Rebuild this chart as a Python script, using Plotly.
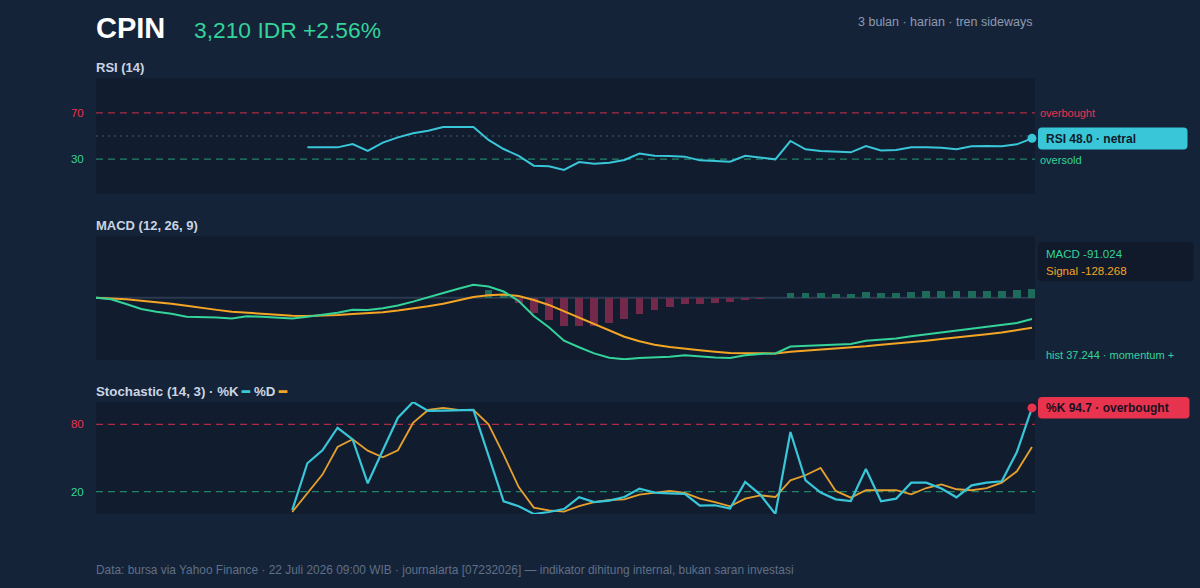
import plotly.graph_objects as go

# ---------------- data ----------------
N = 63
idx = list(range(N))

rsi = [None] * 14 + [
    40.2, 40.2, 40.2, 43.1, 37.1, 44.3, 48.8, 52.3, 54.6, 57.8,
    57.8, 57.8, 46.6, 38.8, 32.8, 24.4, 23.9, 20.8, 27.5, 26.1,
    27.0, 29.3, 34.8, 33.0, 32.8, 32.2, 29.0, 28.7, 27.9, 33.0,
    31.6, 29.9, 45.7, 38.5, 37.1, 36.2, 35.9, 41.4, 37.6, 37.9,
    40.2, 40.2, 39.9, 38.5, 41.1, 41.4, 41.1, 42.8, 48.0]

macd = [
    0, -7, -27, -48, -60, -68, -81, -82, -84, -89,
    -79, -81, -84, -89, -81, -72, -64, -51, -52, -45,
    -33, -17, 0, 20, 38, 55, 47, 26, -14, -78,
    -126, -183, -211, -237, -255, -262, -256, -254, -251, -245,
    -251, -254, -256, -245, -239, -237, -208, -205, -203, -200,
    -197, -183, -179, -174, -164, -156, -149, -143, -135, -126,
    -118, -108, -91.024]

signal = [
    0, -3, -7, -13, -18, -26, -34, -44, -52, -60,
    -65, -69, -74, -77, -78, -77, -74, -69, -67, -62,
    -55, -47, -37, -26, -13, 3, 10, 13, 7, -10,
    -31, -58, -87, -115, -142, -166, -185, -200, -210, -218,
    -224, -230, -235, -236, -236, -237, -230, -226, -221, -216,
    -213, -207, -200, -195, -188, -183, -176, -170, -163, -156,
    -148, -139, -128.268]

hist = [None] * 26 + [
    33, 11, -21, -67, -95, -122, -122, -120, -107, -92,
    -68, -51, -39, -26, -26, -23, -20, -10, -4, 0,
    21, 21, 18, 16, 16, 24, 21, 21, 24, 27,
    27, 27, 28, 30, 30, 31, 37.244]

stoch_k = [None] * 13 + [
    3.5, 45.3, 56.9, 77.0, 66.7, 27.4, 56.9, 86.0, 100.0, 92.0,
    92.3, 92.9, 92.9, 52.2, 11.3, 7.0, 0.0, 1.8, 4.4, 15.0,
    10.7, 12.0, 15.2, 22.7, 19.1, 18.5, 17.9, 7.5, 7.8, 4.8,
    28.6, 17.3, 0.0, 73.2, 30.1, 19.1, 13.1, 11.6, 40.2, 11.3,
    13.7, 28.0, 28.0, 22.7, 14.9, 25.6, 28.0, 29.2, 55.4, 94.7]

stoch_d = [None] * 13 + [
    1.8, 18.2, 35.2, 59.8, 66.7, 56.6, 50.6, 56.9, 81.3, 92.9,
    94.7, 92.9, 92.9, 80.1, 53.0, 24.1, 5.7, 3.3, 2.1, 7.1,
    10.7, 12.5, 13.1, 17.3, 19.1, 20.6, 18.8, 13.7, 10.7, 6.9,
    13.7, 16.7, 15.2, 30.1, 34.6, 41.1, 20.6, 14.6, 21.2, 21.2,
    21.4, 17.6, 23.2, 26.5, 22.1, 21.2, 23.2, 28.0, 38.1, 59.8]

rsi_levels = [30, 70]
stoch_levels = [20, 80]

# ---------------- style ----------------
FONT = "Liberation Sans, Arial, Helvetica, sans-serif"
BG = "#152339"
PLOT_BG = "#111d2f"
CYAN = "#38c6d8"
GREEN = "#34d399"
ORANGE = "#f5a524"
RED = "#e8334f"
TITLE_C = "#cbd5e1"
MUTED = "#8e9bb0"
FOOT = "#5f6f86"

W, H = 1200, 588
L, R = 96, 165


def xp(px):
    return (px - L) / (W - L - R)


def yp(py):
    return 1 - py / H


def rounded_box(x0, y0, x1, y1, r, fill):
    rx = r / (W - L - R)
    ry = r / H
    X0, X1 = xp(x0), xp(x1)
    Yt, Yb = yp(y0), yp(y1)
    path = (f"M {X0+rx},{Yt} L {X1-rx},{Yt} Q {X1},{Yt} {X1},{Yt-ry} "
            f"L {X1},{Yb+ry} Q {X1},{Yb} {X1-rx},{Yb} L {X0+rx},{Yb} "
            f"Q {X0},{Yb} {X0},{Yb+ry} L {X0},{Yt-ry} Q {X0},{Yt} {X0+rx},{Yt} Z")
    return dict(type="path", xref="paper", yref="paper", path=path,
                fillcolor=fill, line=dict(width=0), layer="above")


fig = go.Figure()

# RSI
fig.add_trace(go.Scatter(x=idx, y=rsi, mode="lines", line=dict(color=CYAN, width=2),
                         xaxis="x", yaxis="y", hoverinfo="skip"))
fig.add_trace(go.Scatter(x=[idx[-1]], y=[rsi[-1]], mode="markers",
                         marker=dict(color=CYAN, size=9), cliponaxis=False,
                         xaxis="x", yaxis="y", hoverinfo="skip"))

# MACD
fig.add_trace(go.Bar(x=idx, y=hist, width=0.52,
                     marker=dict(color=["#1f6b5b" if (h is not None and h >= 0) else "#72294a"
                                        for h in hist], line=dict(width=0)),
                     xaxis="x2", yaxis="y2", hoverinfo="skip"))
fig.add_trace(go.Scatter(x=idx, y=signal, mode="lines", line=dict(color=ORANGE, width=2),
                         xaxis="x2", yaxis="y2", hoverinfo="skip"))
fig.add_trace(go.Scatter(x=idx, y=macd, mode="lines", line=dict(color=GREEN, width=2),
                         xaxis="x2", yaxis="y2", hoverinfo="skip"))

# Stochastic
fig.add_trace(go.Scatter(x=idx, y=stoch_d, mode="lines", line=dict(color="#e6a02e", width=1.8),
                         xaxis="x3", yaxis="y3", hoverinfo="skip"))
fig.add_trace(go.Scatter(x=idx, y=stoch_k, mode="lines", line=dict(color=CYAN, width=2.2),
                         xaxis="x3", yaxis="y3", hoverinfo="skip"))
fig.add_trace(go.Scatter(x=[idx[-1]], y=[stoch_k[-1]], mode="markers",
                         marker=dict(color=RED, size=9), cliponaxis=False,
                         xaxis="x3", yaxis="y3", hoverinfo="skip"))

xcommon = dict(range=[0, 62.2], visible=False, showgrid=False, zeroline=False, fixedrange=True)
ycommon = dict(showgrid=False, zeroline=False, showline=False, fixedrange=True,
               ticks="outside", ticklen=9, tickcolor="rgba(0,0,0,0)",
               tickfont=dict(family=FONT, size=11.5, color=MUTED))

fig.update_layout(
    width=W, height=H,
    margin=dict(l=L, r=R, t=0, b=0, pad=0),
    paper_bgcolor=BG, plot_bgcolor=PLOT_BG,
    showlegend=False, bargap=0,
    font=dict(family=FONT, color=TITLE_C),
    xaxis=dict(domain=[0, 1], anchor="y", **xcommon),
    xaxis2=dict(domain=[0, 1], anchor="y2", **xcommon),
    xaxis3=dict(domain=[0, 1], anchor="y3", **xcommon),
    yaxis=dict(domain=[yp(194), yp(78)], range=[0, 100], anchor="x",
               tickvals=rsi_levels,
               ticktext=[f"<span style='color:{GREEN}'>30</span>",
                         f"<span style='color:{RED}'>70</span>"], **ycommon),
    yaxis2=dict(domain=[yp(360), yp(236)], range=[-265, 262], anchor="x2",
                showticklabels=False, **ycommon),
    yaxis3=dict(domain=[yp(514), yp(402)], range=[0, 100], anchor="x3",
                tickvals=stoch_levels,
                ticktext=[f"<span style='color:{GREEN}'>20</span>",
                          f"<span style='color:{RED}'>80</span>"], **ycommon),
)

shapes = []
# RSI reference lines
shapes.append(dict(type="line", xref="x domain", yref="y", x0=0, x1=1, y0=70, y1=70,
                   line=dict(color="rgba(232,51,79,0.7)", width=1.3, dash="7px,5px"), layer="below"))
shapes.append(dict(type="line", xref="x domain", yref="y", x0=0, x1=1, y0=30, y1=30,
                   line=dict(color="rgba(52,211,153,0.55)", width=1.3, dash="7px,5px"), layer="below"))
shapes.append(dict(type="line", xref="x domain", yref="y", x0=0, x1=1, y0=50, y1=50,
                   line=dict(color="rgba(120,140,165,0.35)", width=1.3, dash="2px,4px"), layer="below"))
# MACD zero line
shapes.append(dict(type="line", xref="x2 domain", yref="y2", x0=0, x1=1, y0=0, y1=0,
                   line=dict(color="#2b394e", width=2), layer="below"))
# Stochastic reference lines
shapes.append(dict(type="line", xref="x3 domain", yref="y3", x0=0, x1=1, y0=80, y1=80,
                   line=dict(color="rgba(232,51,79,0.7)", width=1.3, dash="7px,5px"), layer="below"))
shapes.append(dict(type="line", xref="x3 domain", yref="y3", x0=0, x1=1, y0=20, y1=20,
                   line=dict(color="rgba(52,211,153,0.55)", width=1.3, dash="7px,5px"), layer="below"))
# side boxes
shapes.append(rounded_box(1038, 127.5, 1187.5, 149.5, 4, CYAN))
shapes.append(rounded_box(1038, 242, 1193.5, 281.5, 4, "#101a2a"))
shapes.append(rounded_box(1038, 397, 1189.5, 418.5, 4, RED))
fig.update_layout(shapes=shapes)

ann = []


def text(px, py, s, size, color, bold=False, anchor="left"):
    ann.append(dict(xref="paper", yref="paper", x=xp(px), y=yp(py), text=(f"<b>{s}</b>" if bold else s),
                    showarrow=False, xanchor=anchor, yanchor="middle",
                    font=dict(family=FONT, size=size, color=color), borderpad=0))


text(95, 28, "CPIN", 29, "#ffffff", bold=True)
text(193, 30, "3,210 IDR +2.56%", 22.8, GREEN)
text(1033, 21.5, "3 bulan · harian · tren sideways", 12.5, MUTED, anchor="right")

text(95, 67.5, "RSI (14)", 13, TITLE_C, bold=True)
text(95, 225.5, "MACD (12, 26, 9)", 13, TITLE_C, bold=True)
text(95, 391,
     f"<b>Stochastic (14, 3) · %K <span style='color:{CYAN}'>━</span> %D "
     f"<span style='color:{ORANGE}'>━</span></b>", 13.3, TITLE_C)

text(1039, 113.5, "overbought", 11, RED)
text(1039, 159.5, "oversold", 11, GREEN)
text(1045, 139, "RSI 48.0 · netral", 12, "#0f1a2a", bold=True)

text(1045, 254.5, "MACD -91.024", 11.5, GREEN)
text(1045, 270.5, "Signal -128.268", 11.5, ORANGE)
text(1045, 354.5, "hist 37.244 · momentum +", 11, GREEN)

text(1045, 408, "%K 94.7 · overbought", 12, "#1a1020", bold=True)

text(95, 569.5, "Data: bursa via Yahoo Finance · 22 Juli 2026 09:00 WIB · journalarta [07232026] — "
     "indikator dihitung internal, bukan saran investasi", 11.9, FOOT)

fig.update_layout(annotations=ann)

fig.write_html("out.html", include_plotlyjs=True, config={"displayModeBar": False, "staticPlot": True})
